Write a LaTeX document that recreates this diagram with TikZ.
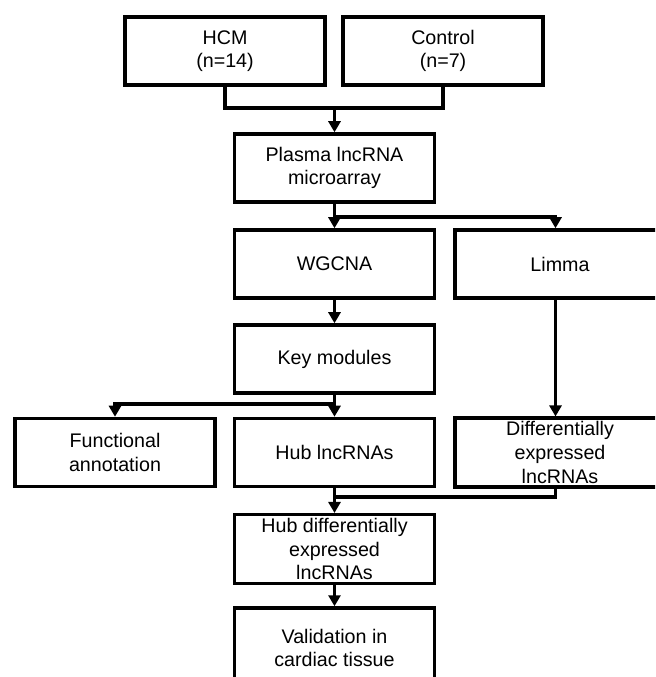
\documentclass[tikz,border=0pt]{standalone}
\usepackage{fontspec}
\setmainfont{Liberation Sans}
\usetikzlibrary{arrows.meta}

\begin{document}
\begin{tikzpicture}[font=\fontsize{11.2}{13.4}\selectfont, >={Triangle[length=0.22cm, width=0.24cm]},
  bx/.style={draw, line width=2pt, align=center, inner sep=2pt,
    minimum width=4.0cm, minimum height=1.36cm},
  ln/.style={line width=1.8pt}]
  \clip (0,0) rectangle (13.1,-13.54);
  \node[bx] (hcm)     at (4.5,-1.02)   {HCM\\ (n=14)};
  \node[bx] (ctrl)    at (8.86,-1.02)  {Control\\ (n=7)};
  \node[bx] (plasma)  at (6.69,-3.36)  {Plasma lncRNA\\ microarray};
  \node[bx] (wgcna)   at (6.69,-5.28)  {WGCNA};
  \node[bx, minimum width=4.2cm] (limma) at (11.2,-5.28) {Limma};
  \node[bx] (key)     at (6.69,-7.18)  {Key modules};
  \node[bx] (func)    at (2.3,-9.05)   {Functional\\ annotation};
  \node[bx] (hub)     at (6.69,-9.05)  {Hub lncRNAs};
  \node[bx, minimum width=4.2cm] (diff) at (11.2,-9.05) {Differentially\\ expressed\\ lncRNAs};
  \node[bx] (hubdiff) at (6.69,-10.98) {Hub differentially\\ expressed\\ lncRNAs};
  \node[bx, minimum height=1.6cm] (valid) at (6.69,-12.96) {Validation in\\ cardiac tissue};

  \coordinate (m1) at (6.69,-2.16);
  \coordinate (b1) at (6.69,-4.34);
  \coordinate (b2) at (6.69,-8.08);
  \coordinate (m2) at (6.69,-9.94);

  \draw[ln] (hcm) |- (m1) -| (ctrl);
  \draw[ln,->] (m1) -- (plasma);
  \draw[ln,->] (plasma) -- (wgcna);
  \draw[ln,->] (b1) -| ([xshift=-0.09cm]limma.north);
  \draw[ln,->] (wgcna) -- (key);
  \draw[ln,->] (key) -- (hub);
  \draw[ln,->] (b2) -| (func);
  \draw[ln,->] ([xshift=-0.09cm]limma.south) -- ([xshift=-0.09cm]diff.north);
  \draw[ln] ([xshift=-0.09cm]diff.south) |- (m2);
  \draw[ln,->] (hub) -- (hubdiff);
  \draw[ln,->] (hubdiff) -- (valid);
\end{tikzpicture}
\end{document}
